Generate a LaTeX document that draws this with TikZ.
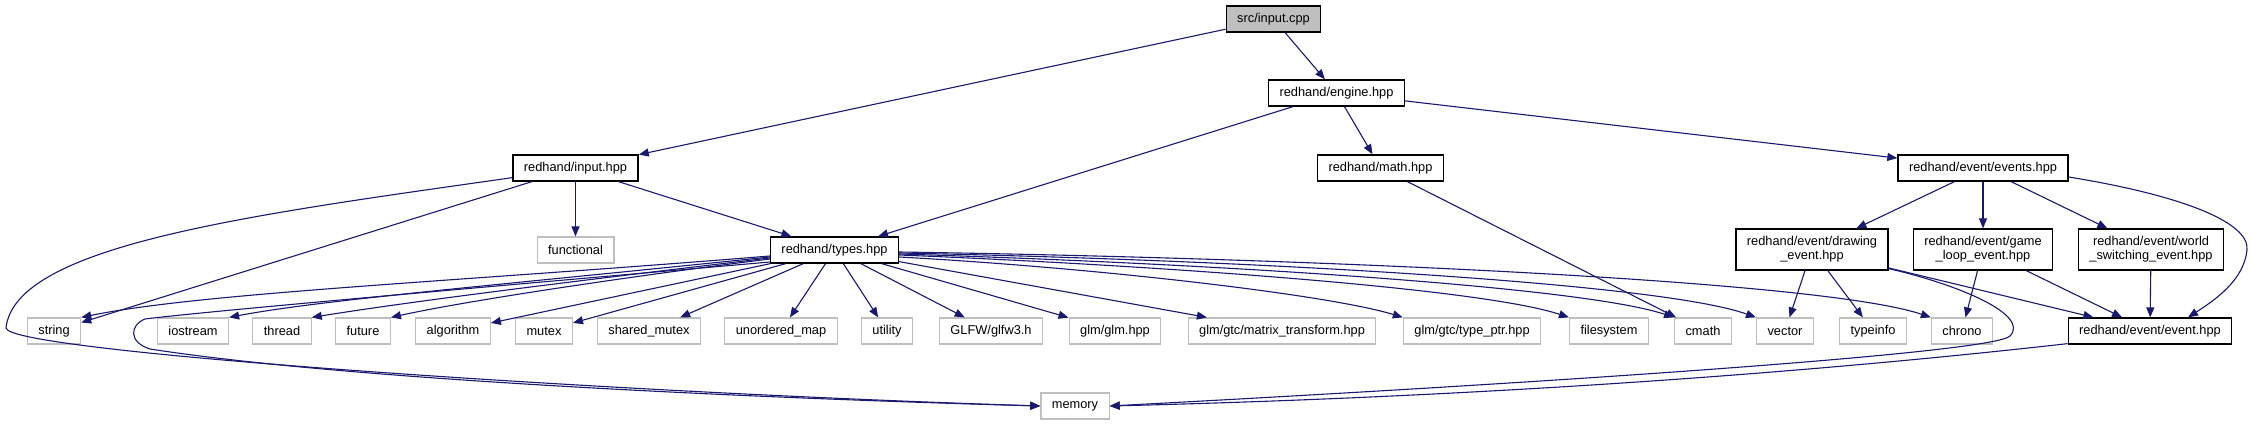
\documentclass[tikz,border=0pt]{standalone}
\usepackage{fontspec}
\setmainfont{Liberation Sans}
\usetikzlibrary{arrows.meta,calc}
\definecolor{edgec}{RGB}{25,25,112}
\definecolor{leafc}{RGB}{191,191,191}
\begin{document}
\begin{tikzpicture}[x=1pt,y=-1pt,
  every node/.style={font=\fontsize{12.8}{14}\selectfont, inner xsep=11pt, inner ysep=0pt, minimum height=26pt, align=center},
  hdr/.style={draw=black, line width=1.3pt, fill=white},
  hdrtwo/.style={hdr, minimum height=41pt},
  leaf/.style={draw=leafc, line width=1.2pt, fill=white},
  rootn/.style={draw=black, line width=1.3pt, fill=leafc},
  dep/.style={draw=edgec, line width=1.1pt, -{Triangle[length=10pt,width=8pt]}}
]
\useasboundingbox (0,0) rectangle (2251,425);
% nodes
\node[rootn] (src) at (1273.5,19) {src/input.cpp};
\node[hdr] (engine) at (1336.5,93) {redhand/engine.hpp};
\node[hdr] (input) at (575.5,168) {redhand/input.hpp};
\node[hdr] (math) at (1380.5,168) {redhand/math.hpp};
\node[hdr] (events) at (1983,168) {redhand/event/events.hpp};
\node[leaf] (functional) at (575.5,250) {functional};
\node[hdr] (types) at (834.5,250) {redhand/types.hpp};
\node[hdrtwo] (drawing) at (1812,249.5) {redhand/event/drawing\\\_event.hpp};
\node[hdrtwo] (gameloop) at (1983,249.5) {redhand/event/game\\\_loop\_event.hpp};
\node[hdrtwo] (world) at (2151,249.5) {redhand/event/world\\\_switching\_event.hpp};
\node[leaf] (nstring) at (54,331) {string};
\node[leaf] (iostream) at (193,331) {iostream};
\node[leaf] (thread) at (282,331) {thread};
\node[leaf] (future) at (363,331) {future};
\node[leaf] (algorithm) at (453,331) {algorithm};
\node[leaf] (mutex) at (544,331) {mutex};
\node[leaf] (shmutex) at (649,331) {shared\_mutex};
\node[leaf] (umap) at (781,331) {unordered\_map};
\node[leaf] (utility) at (887,331) {utility};
\node[leaf] (glfw) at (991,331) {GLFW/glfw3.h};
\node[leaf] (glm) at (1115,331) {glm/glm.hpp};
\node[leaf] (matrix) at (1282,331) {glm/gtc/matrix\_transform.hpp};
\node[leaf] (typeptr) at (1472,331) {glm/gtc/type\_ptr.hpp};
\node[leaf] (filesystem) at (1609,331) {filesystem};
\node[leaf] (cmath) at (1703,331) {cmath};
\node[leaf] (vector) at (1785,331) {vector};
\node[leaf] (typeinfo) at (1873,331) {typeinfo};
\node[leaf] (chrono) at (1962,331) {chrono};
\node[hdr] (eventh) at (2150,331) {redhand/event/event.hpp};
\node[leaf] (memory) at (1075,406) {memory};
% edges
\draw[dep] (src) -- (engine);
\draw[dep] (src) -- (input);
\draw[dep] (engine) -- (types);
\draw[dep] (engine) -- (math);
\draw[dep] (engine) -- (events);
\draw[dep] (input) -- (functional);
\draw[dep] (input) -- (nstring);
\draw[dep] (input) -- (types);
\draw[dep] ($(input.south west)+(0,-4)$) .. controls (250,215) and (15,245) .. (6,328)
  .. controls (8,352) and (600,392) .. (memory.west);
\draw[dep] (math) -- (cmath);
\draw[dep] (events) -- (drawing);
\draw[dep] (events) -- (gameloop);
\draw[dep] (events) -- (world);
\draw[dep] ($(events.east)+(0,9)$) .. controls (2180,195) and (2250,222) .. (2247,250)
  .. controls (2244,280) and (2215,300) .. ($(eventh.north)+(38,0)$);
% types fan, left
\draw[dep] ($(types.west)+(0,6)$) .. controls (450,282) and (200,293) .. (nstring.north east);
\draw[dep] ($(types.west)+(0,7)$) .. controls (500,285) and (320,300) .. (iostream.north east);
\draw[dep] ($(types.west)+(0,8)$) .. controls (600,278) and (420,300) .. (thread.north east);
\draw[dep] ($(types.west)+(0,9)$) .. controls (640,275) and (470,300) .. (future.north east);
\draw[dep] (types) -- (algorithm);
\draw[dep] (types) -- (mutex);
\draw[dep] (types) -- (shmutex);
\draw[dep] (types) -- (umap);
\draw[dep] (types) -- (utility);
\draw[dep] (types) -- (glfw);
\draw[dep] (types) -- (glm);
\draw[dep] (types) -- (matrix);
\draw[dep] ($(types.east)+(0,7)$) .. controls (1100,268) and (1330,295) .. (typeptr.north west);
\draw[dep] ($(types.east)+(0,5)$) .. controls (1150,265) and (1480,288) .. (filesystem.north west);
\draw[dep] ($(types.east)+(0,4)$) .. controls (1200,263) and (1580,286) .. (cmath.north west);
\draw[dep] ($(types.east)+(0,3)$) .. controls (1250,260) and (1660,283) .. (vector.north west);
\draw[dep] ($(types.east)+(0,2)$) .. controls (1300,258) and (1820,280) .. (chrono.north west);
\draw[dep] ($(types.west)+(0,12)$) .. controls (450,290) and (200,312) .. (145,319)
  .. controls (130,325) and (128,342) .. (150,349)
  .. controls (350,380) and (750,398) .. (memory.west);
% event headers
\draw[dep] (drawing) -- (vector);
\draw[dep] (drawing) -- (typeinfo);
\draw[dep] (drawing) -- (eventh);
\draw[dep] ($(drawing.south east)+(0,-2)$) .. controls (1960,285) and (2030,315) .. (2010,336)
  .. controls (1995,352) and (1600,380) .. (memory.east);
\draw[dep] (gameloop) -- (chrono);
\draw[dep] (gameloop) -- (eventh);
\draw[dep] (world) -- (eventh);
\draw[dep] ($(eventh.south west)+(0,-1)$) .. controls (1700,385) and (1350,400) .. (memory.east);
\end{tikzpicture}
\end{document}
